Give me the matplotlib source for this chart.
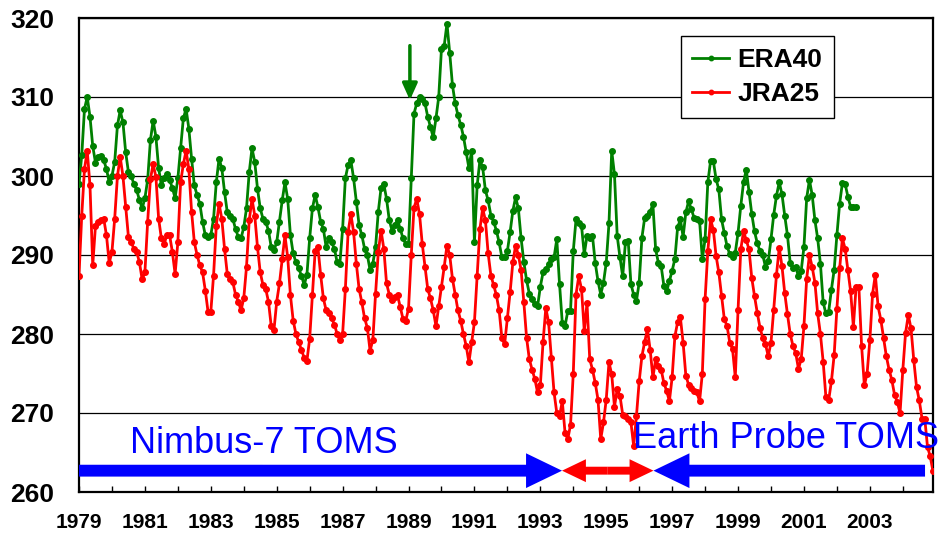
import numpy as np
import matplotlib
matplotlib.use("Agg")
import matplotlib.pyplot as plt
from matplotlib.patches import FancyArrow

plt.rcParams['font.family'] = ['Liberation Sans', 'DejaVu Sans']

# monthly global mean total ozone (DU), Jan 1979 onwards, one row per year
era40 = [
    299.0, 302.6, 308.5, 310.0, 307.5, 303.8, 301.7, 302.4, 302.5, 302.0, 300.9, 299.2,  # 1979
    300.0, 301.8, 306.4, 308.3, 306.8, 303.0, 300.5, 300.0, 299.0, 298.2, 297.0, 295.9,  # 1980
    297.2, 299.5, 304.5, 307.0, 305.0, 301.0, 298.8, 299.8, 300.2, 299.5, 298.5, 297.2,  # 1981
    299.7, 303.5, 307.3, 308.5, 306.0, 302.2, 298.8, 297.6, 296.5, 294.2, 292.5, 292.3,  # 1982
    292.5, 294.6, 299.2, 302.2, 301.0, 298.0, 295.4, 295.0, 294.6, 293.3, 292.3, 292.1,  # 1983
    293.5, 295.9, 300.5, 303.5, 301.8, 298.4, 295.9, 294.6, 294.2, 293.1, 291.0, 290.6,  # 1984
    291.6, 294.2, 296.9, 299.2, 297.1, 292.5, 290.2, 289.1, 288.3, 287.4, 286.2, 287.5,  # 1985
    292.1, 295.9, 297.6, 296.1, 294.2, 293.3, 291.0, 292.1, 291.6, 290.8, 289.1, 288.9,  # 1986
    293.3, 299.7, 301.4, 302.0, 299.7, 296.7, 293.8, 292.5, 290.8, 290.0, 288.1, 288.9,  # 1987
    291.0, 295.5, 298.5, 299.0, 297.1, 294.4, 293.1, 293.8, 294.4, 293.3, 292.1, 291.4,  # 1988
    291.4, 299.7, 307.9, 309.2, 310.0, 309.8, 309.2, 307.5, 306.2, 304.9, 307.3, 310.0,  # 1989
    316.1, 316.5, 319.3, 315.6, 311.5, 309.2, 307.7, 306.5, 305.0, 303.0, 301.0, 303.2,  # 1990
    291.6, 298.8, 302.0, 301.1, 298.2, 296.9, 295.0, 294.2, 293.1, 291.6, 289.7, 289.7,  # 1991
    290.5, 292.9, 295.6, 297.3, 295.9, 292.1, 289.1, 286.8, 285.1, 284.4, 283.8, 283.5,  # 1992
    286.0, 287.8, 288.2, 288.8, 289.5, 289.7, 292.0, 286.3, 281.4, 281.0, 282.9, 282.9,  # 1993
    290.5, 294.5, 294.1, 293.7, 290.1, 292.4, 292.2, 292.4, 289.0, 286.7, 285.0, 286.5,  # 1994
    289.0, 294.0, 303.2, 300.2, 292.4, 289.7, 287.3, 291.6, 291.8, 286.3, 285.0, 284.2,  # 1995
    286.5, 292.2, 294.7, 294.9, 295.5, 296.4, 290.7, 289.0, 288.6, 286.1, 285.4, 286.7,  # 1996
    288.0, 289.5, 293.5, 294.5, 292.3, 295.4, 296.8, 295.8, 294.7, 294.5, 294.3, 289.5,  # 1997
    292.0, 299.2, 301.9, 301.9, 299.6, 298.3, 294.5, 292.8, 291.1, 290.1, 289.7, 290.3,  # 1998
    292.8, 296.2, 299.2, 300.8, 298.0, 295.2, 293.0, 291.5, 290.5, 290.0, 288.5, 289.2,  # 1999
    292.0, 295.1, 297.5, 299.2, 297.7, 295.0, 292.5, 289.0, 288.4, 288.5, 287.3, 288.0,  # 2000
    291.0, 297.2, 299.5, 297.6, 294.4, 292.1, 288.9, 284.0, 282.6, 282.8, 285.6, 288.1,  # 2001
    292.5, 296.5, 299.1, 299.0, 297.4, 296.1, 296.1, 296.1,                              # 2002
]

jra25 = [
    287.4, 295.0, 300.9, 303.2, 298.8, 288.7, 293.7, 294.2, 294.4, 294.6, 292.5, 289.0,  # 1979
    290.4, 294.6, 300.0, 302.4, 300.0, 296.1, 292.3, 291.6, 290.8, 290.4, 289.1, 286.9,  # 1980
    287.8, 294.2, 299.6, 301.5, 299.9, 294.6, 292.1, 291.4, 292.5, 292.5, 290.4, 287.6,  # 1981
    291.6, 299.2, 301.5, 303.2, 300.9, 295.5, 291.6, 290.0, 288.7, 287.8, 285.5, 282.8,  # 1982
    282.8, 287.4, 293.7, 296.5, 294.6, 290.8, 287.6, 287.0, 286.6, 285.0, 284.1, 283.0,  # 1983
    284.5, 288.5, 294.4, 297.1, 295.0, 291.0, 287.8, 286.2, 285.7, 284.1, 281.0, 280.5,  # 1984
    284.1, 286.4, 289.5, 292.5, 289.7, 284.9, 281.7, 280.0, 279.0, 278.0, 277.0, 276.6,  # 1985
    279.4, 284.9, 290.5, 291.0, 287.5, 284.5, 283.0, 282.6, 282.0, 281.2, 280.0, 279.2,  # 1986
    280.0, 285.7, 292.9, 295.2, 292.9, 288.9, 285.7, 284.0, 282.0, 280.8, 277.9, 279.2,  # 1987
    285.1, 290.4, 293.1, 290.8, 286.4, 285.0, 284.3, 284.7, 284.9, 283.4, 281.9, 281.7,  # 1988
    283.2, 290.0, 296.0, 297.1, 295.2, 291.4, 288.5, 285.7, 284.5, 283.0, 281.0, 283.5,  # 1989
    286.0, 288.5, 291.2, 290.0, 287.0, 285.0, 283.0, 281.7, 280.0, 278.5, 276.4, 279.0,  # 1990
    281.5, 287.4, 293.3, 295.9, 294.4, 290.2, 287.4, 286.2, 284.9, 283.0, 279.5, 278.7,  # 1991
    282.0, 285.3, 289.1, 291.2, 290.0, 288.1, 284.0, 279.5, 276.8, 275.5, 274.3, 272.6,  # 1992
    273.5, 279.0, 283.3, 281.5, 277.0, 272.6, 270.0, 269.6, 271.5, 267.5, 266.7, 268.5,  # 1993
    275.0, 285.0, 287.3, 285.7, 280.4, 283.9, 276.8, 275.5, 273.8, 271.7, 266.7, 268.8,  # 1994
    271.7, 276.4, 274.9, 270.8, 273.0, 272.2, 269.8, 269.6, 269.2, 268.8, 265.8, 269.6,  # 1995
    274.0, 277.2, 279.0, 280.6, 278.0, 274.5, 276.8, 276.0, 275.5, 273.8, 272.8, 271.5,  # 1996
    274.5, 279.7, 281.5, 282.1, 278.9, 274.7, 273.6, 273.2, 272.8, 272.6, 271.5, 275.0,  # 1997
    284.4, 290.5, 294.5, 293.2, 289.9, 287.8, 284.8, 281.9, 281.0, 278.9, 278.1, 274.5,  # 1998
    283.0, 290.7, 293.0, 291.9, 290.7, 287.1, 284.8, 282.7, 280.8, 279.5, 278.7, 277.2,  # 1999
    278.9, 283.1, 287.5, 290.9, 288.6, 285.2, 282.5, 280.0, 278.5, 277.6, 275.6, 276.8,  # 2000
    281.0, 287.0, 290.0, 288.5, 286.5, 282.6, 280.0, 276.5, 272.0, 271.6, 274.0, 277.3,  # 2001
    283.2, 288.3, 292.1, 290.8, 288.1, 285.4, 280.9, 286.0, 286.0, 278.5, 273.5, 275.0,  # 2002
    279.2, 285.1, 287.5, 283.5, 281.8, 279.5, 277.2, 275.5, 274.2, 272.3, 271.4, 270.0,  # 2003
    275.4, 280.1, 282.4, 280.7, 276.7, 273.3, 271.6, 269.3, 269.3, 265.7, 264.5, 262.6,  # 2004
]

year_labels = [str(y) for y in range(1979, 2005, 2)]

# instrument periods, as month index from Jan 1979
nimbus_end = 175.9
gap_end = 209.2
ep_end = 308.1


def main():
    fig = plt.figure(figsize=(9.47, 5.34), dpi=100)
    ax = fig.add_axes([79 / 947, 42 / 534, 854 / 947, 474 / 534])

    x_era = np.arange(len(era40))
    x_jra = np.arange(len(jra25))

    ax.plot(x_era, era40, color='#008000', lw=2.0, marker='o', ms=4,
            label='ERA40', zorder=3)
    ax.plot(x_jra, jra25, color='#ff0000', lw=2.0, marker='o', ms=4,
            label='JRA25', zorder=3)

    ax.set_xlim(0, len(jra25) - 1)
    ax.set_ylim(260, 320)
    ax.set_yticks(np.arange(260, 321, 10))
    ax.yaxis.grid(True, color='black', lw=0.9)
    ax.set_axisbelow(True)

    # tick every year, label every two years
    ax.set_xticks(np.arange(0, len(jra25), 12), minor=True)
    ax.set_xticks(np.arange(0, len(jra25), 24))
    ax.set_xticklabels(year_labels)
    ax.tick_params(axis='x', which='both', direction='in', length=4, width=1)
    ax.tick_params(axis='x', which='major', pad=15, labelsize=15)
    ax.tick_params(axis='y', length=0, pad=18, labelsize=19)
    for lab in ax.get_xticklabels() + ax.get_yticklabels():
        lab.set_fontweight('bold')
    for s in ax.spines.values():
        s.set_linewidth(1.6)

    # instrument arrows
    y_arr = 262.7
    ax.add_patch(FancyArrow(0, y_arr, nimbus_end, 0, width=1.5, head_width=4.4,
                            head_length=13.1, length_includes_head=True,
                            color='#0000ff', lw=0, zorder=4))
    mid = (nimbus_end + gap_end) / 2
    for dx in (gap_end - mid, nimbus_end - mid):
        ax.add_patch(FancyArrow(mid, y_arr, dx, 0, width=1.0, head_width=2.9,
                                head_length=8.7, length_includes_head=True,
                                color='#ff0000', lw=0, zorder=4))
    ax.add_patch(FancyArrow(ep_end, y_arr, gap_end - ep_end, 0, width=1.5,
                            head_width=4.4, head_length=13.1,
                            length_includes_head=True, color='#0000ff', lw=0,
                            zorder=4))

    ax.text(18.6, 264.9, 'Nimbus-7 TOMS', color='#0000ff', fontsize=26,
            ha='left', va='baseline', zorder=5)
    ax.text(201.7, 265.6, 'Earth Probe TOMS', color='#0000ff', fontsize=26,
            ha='left', va='baseline', zorder=5, clip_on=False)

    # arrow marking the 1989 jump in ERA40
    ax.annotate('', xy=(120.5, 309.6), xytext=(120.5, 316.5),
                arrowprops=dict(arrowstyle='-|>,head_width=0.45,head_length=1.0',
                                color='#008000', lw=2.5, shrinkA=0, shrinkB=0))

    leg = ax.legend(loc='upper right', bbox_to_anchor=(834 / 947, 1 - 36 / 534),
                    bbox_transform=fig.transFigure, borderaxespad=0,
                    fancybox=False, edgecolor='black', framealpha=1,
                    prop={'size': 19, 'weight': 'bold'}, handlelength=1.4,
                    handletextpad=0.3, borderpad=0.45, labelspacing=0.4,
                    markerscale=0.8)
    leg.get_frame().set_linewidth(1.0)

    fig.savefig('out.png', dpi=100, facecolor='white')


if __name__ == "__main__":
    main()
